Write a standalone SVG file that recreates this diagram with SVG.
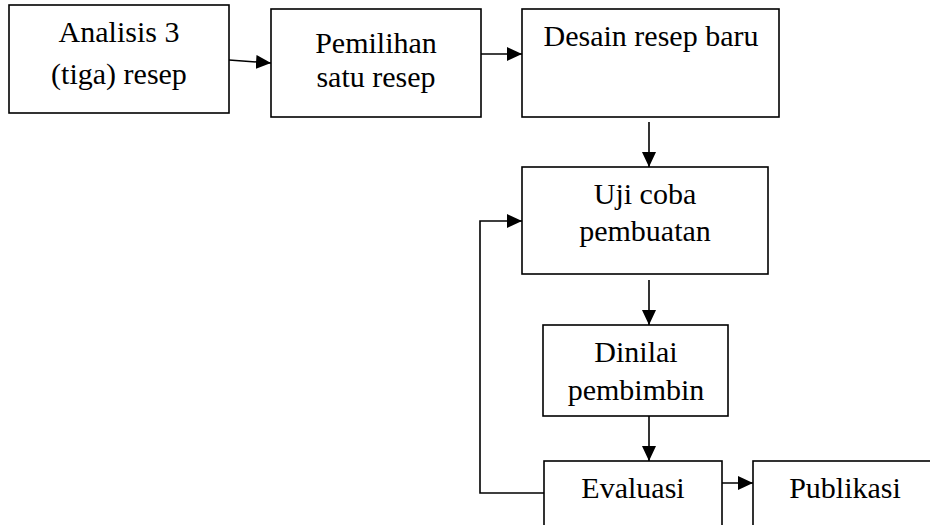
<svg xmlns="http://www.w3.org/2000/svg" width="930" height="525" viewBox="0 0 930 525">
<style>
.box{fill:#fff;stroke:#000;stroke-width:1.6}
.t{font-family:'Liberation Serif','Times New Roman',serif;font-size:30px;fill:#000;text-anchor:middle}
.c{fill:none;stroke:#000;stroke-width:1.6}
</style>
<defs>
<marker id="ah" markerWidth="15" markerHeight="14" refX="15" refY="7" orient="auto" markerUnits="userSpaceOnUse">
<path d="M0,0 L15,7 L0,14 Z" fill="#000"/>
</marker>
</defs>
<rect width="930" height="525" fill="#fff"/>
<g id="connectors">
<line class="c" x1="229" y1="60" x2="271" y2="63" marker-end="url(#ah)"/>
<line class="c" x1="481" y1="54" x2="522" y2="54" marker-end="url(#ah)"/>
<line class="c" x1="649" y1="122" x2="649" y2="167" marker-end="url(#ah)"/>
<line class="c" x1="649" y1="280" x2="649" y2="325" marker-end="url(#ah)"/>
<line class="c" x1="649" y1="416" x2="649" y2="461" marker-end="url(#ah)"/>
<polyline class="c" points="544,493 480,493 480,221 522,221" marker-end="url(#ah)"/>
<line class="c" x1="711" y1="483" x2="753" y2="483" marker-end="url(#ah)"/>
</g>
<g id="n1">
<rect class="box" x="9" y="5" width="220" height="108"/>
<text class="t" x="119" y="42">Analisis 3</text>
<text class="t" x="119" y="84">(tiga) resep</text>
</g>
<g id="n2">
<rect class="box" x="271" y="9" width="210" height="108"/>
<text class="t" x="376" y="53">Pemilihan</text>
<text class="t" x="376" y="87">satu resep</text>
</g>
<g id="n3">
<rect class="box" x="522" y="9" width="257" height="108"/>
<text class="t" x="651" y="46">Desain resep baru</text>
</g>
<g id="n4">
<rect class="box" x="522" y="167" width="246" height="107"/>
<text class="t" x="645" y="204">Uji coba</text>
<text class="t" x="645" y="241">pembuatan</text>
</g>
<g id="n5">
<rect class="box" x="543" y="325" width="185" height="91"/>
<text class="t" x="636" y="362">Dinilai</text>
<text class="t" x="636" y="400">pembimbin</text>
</g>
<g id="n6">
<rect class="box" x="544" y="461" width="178" height="80"/>
<text class="t" x="633" y="498">Evaluasi</text>
</g>
<g id="n7">
<rect class="box" x="753" y="461" width="200" height="80"/>
<text class="t" x="845" y="498">Publikasi</text>
</g>
</svg>
